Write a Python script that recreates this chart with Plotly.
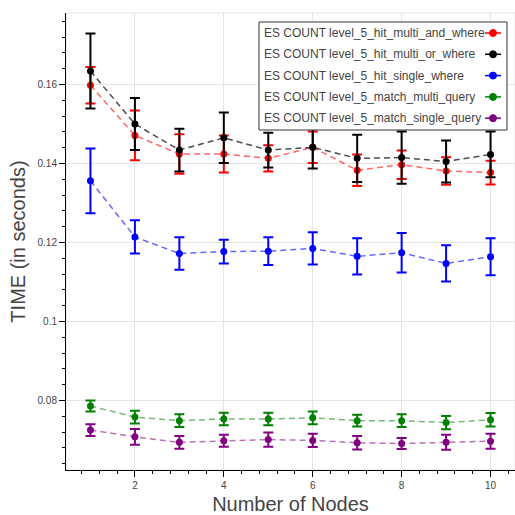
import plotly.graph_objects as go

# Number of nodes in the cluster
nodes = [1, 2, 3, 4, 5, 6, 7, 8, 9, 10]

# Series names and colours
series_names = [
    "ES COUNT level_5_hit_multi_and_where",
    "ES COUNT level_5_hit_multi_or_where",
    "ES COUNT level_5_hit_single_where",
    "ES COUNT level_5_match_multi_query",
    "ES COUNT level_5_match_single_query",
]
series_colors = ["#ff0000", "#000000", "#0000ff", "#008000", "#800080"]
line_colors = ["rgba(255,0,0,0.6)", "rgba(0,0,0,0.7)", "rgba(0,0,255,0.6)",
               "rgba(0,128,0,0.55)", "rgba(128,0,128,0.55)"]

# Mean query time (seconds) per series
hit_multi_and_where = [0.1598, 0.1471, 0.1424, 0.1424, 0.1413, 0.1441, 0.1383, 0.1397, 0.1381, 0.1377]
hit_multi_or_where = [0.1634, 0.1500, 0.1434, 0.1465, 0.1434, 0.1441, 0.1413, 0.1415, 0.1405, 0.1423]
hit_single_where = [0.1356, 0.1214, 0.1172, 0.1177, 0.1178, 0.1185, 0.1165, 0.1174, 0.1147, 0.1164]
match_multi_query = [0.0786, 0.0758, 0.0749, 0.0753, 0.0753, 0.0756, 0.0749, 0.0749, 0.0744, 0.0751]
match_single_query = [0.0725, 0.0708, 0.0694, 0.0698, 0.0701, 0.0699, 0.0693, 0.0691, 0.0694, 0.0697]

# Standard deviation (seconds) per series
err_multi_and_where = [0.0046, 0.0063, 0.0050, 0.0047, 0.0033, 0.0040, 0.0040, 0.0036, 0.0035, 0.0030]
err_multi_or_where = [0.0095, 0.0066, 0.0054, 0.0064, 0.0044, 0.0054, 0.0060, 0.0066, 0.0053, 0.0058]
err_single_where = [0.0082, 0.0042, 0.0041, 0.0030, 0.0035, 0.0041, 0.0046, 0.0050, 0.0046, 0.0047]
err_match_multi = [0.0014, 0.0016, 0.0016, 0.0016, 0.0016, 0.0016, 0.0015, 0.0016, 0.0017, 0.0017]
err_match_single = [0.0015, 0.0020, 0.0016, 0.0015, 0.0018, 0.0017, 0.0017, 0.0014, 0.0019, 0.0019]

means = [hit_multi_and_where, hit_multi_or_where, hit_single_where,
         match_multi_query, match_single_query]
errors = [err_multi_and_where, err_multi_or_where, err_single_where,
          err_match_multi, err_match_single]

FONT = "Liberation Sans, Arial, Helvetica, sans-serif"

fig = go.Figure()
for name, col, lcol, y, e in zip(series_names, series_colors, line_colors, means, errors):
    fig.add_trace(go.Scatter(
        x=nodes, y=y, name=name, mode="lines+markers",
        line=dict(color=lcol, width=1.5, dash="6px,4px"),
        marker=dict(color=col, size=7),
        error_y=dict(type="data", array=e, visible=True, color=col,
                     thickness=2, width=5),
        showlegend=False,
    ))

# Frame geometry in pixels (used to place the custom legend)
W = H = 515
ML, MR, MT, MB = 66, 0, 13, 45
pw, ph = W - ML - MR, H - MT - MB


def px_x(p):
    return (p - ML) / pw


def px_y(p):
    return (H - MB - p) / ph


shapes = [
    # light frame outline
    dict(type="rect", xref="paper", yref="paper", x0=0, x1=1, y0=0, y1=1,
         line=dict(color="#e5e5e5", width=1), layer="below"),
    # legend box
    dict(type="rect", xref="paper", yref="paper",
         x0=px_x(259), x1=px_x(507), y0=px_y(130), y1=px_y(22),
         line=dict(color="#333333", width=1), fillcolor="white", layer="above"),
]
annotations = []
row0, row_step = 33.0, 21.3
for i, (name, col) in enumerate(zip(series_names, series_colors)):
    ry = row0 + i * row_step
    annotations.append(dict(
        xref="paper", yref="paper", x=px_x(262), y=px_y(ry),
        xanchor="left", yanchor="middle", text=name, showarrow=False,
        font=dict(family=FONT, size=12, color="#444444"),
    ))
    shapes.append(dict(type="line", xref="paper", yref="paper",
                       x0=px_x(485), x1=px_x(501), y0=px_y(ry), y1=px_y(ry),
                       line=dict(color=col, width=1.5), layer="above"))
    shapes.append(dict(type="circle", xref="paper", yref="paper",
                       xsizemode="pixel", ysizemode="pixel",
                       xanchor=px_x(493), yanchor=px_y(ry),
                       x0=-3.5, x1=3.5, y0=-3.5, y1=3.5,
                       fillcolor=col, line=dict(color=col, width=1), layer="above"))

axis_common = dict(
    showline=True, linecolor="#000000", linewidth=1,
    ticks="outside", ticklen=6, tickcolor="#000000", tickwidth=1,
    showgrid=True, gridcolor="#e5e5e5", gridwidth=1, zeroline=False,
    tickfont=dict(family=FONT, size=10, color="#444444"),
)

fig.update_layout(
    width=W, height=H,
    margin=dict(l=ML, r=MR, t=MT, b=MB, pad=0),
    paper_bgcolor="white", plot_bgcolor="white",
    font=dict(family=FONT, color="#444444"),
    showlegend=False,
    xaxis=dict(
        range=[0.45, 10.55], tick0=0, dtick=2,
        minor=dict(ticks="outside", ticklen=3, tickcolor="#000000", dtick=0.4,
                   tick0=0, showgrid=False),
        title=dict(text="Number of Nodes", font=dict(family=FONT, size=20, color="#444444"),
                   standoff=8),
        **axis_common,
    ),
    yaxis=dict(
        range=[0.0624, 0.1781], tick0=0, dtick=0.02,
        minor=dict(ticks="outside", ticklen=3, tickcolor="#000000", dtick=0.004,
                   tick0=0, showgrid=False),
        title=dict(text="TIME (in seconds)", font=dict(family=FONT, size=20, color="#444444"),
                   standoff=6),
        **axis_common,
    ),
    shapes=shapes,
    annotations=annotations,
)

fig.write_html("out.html")
